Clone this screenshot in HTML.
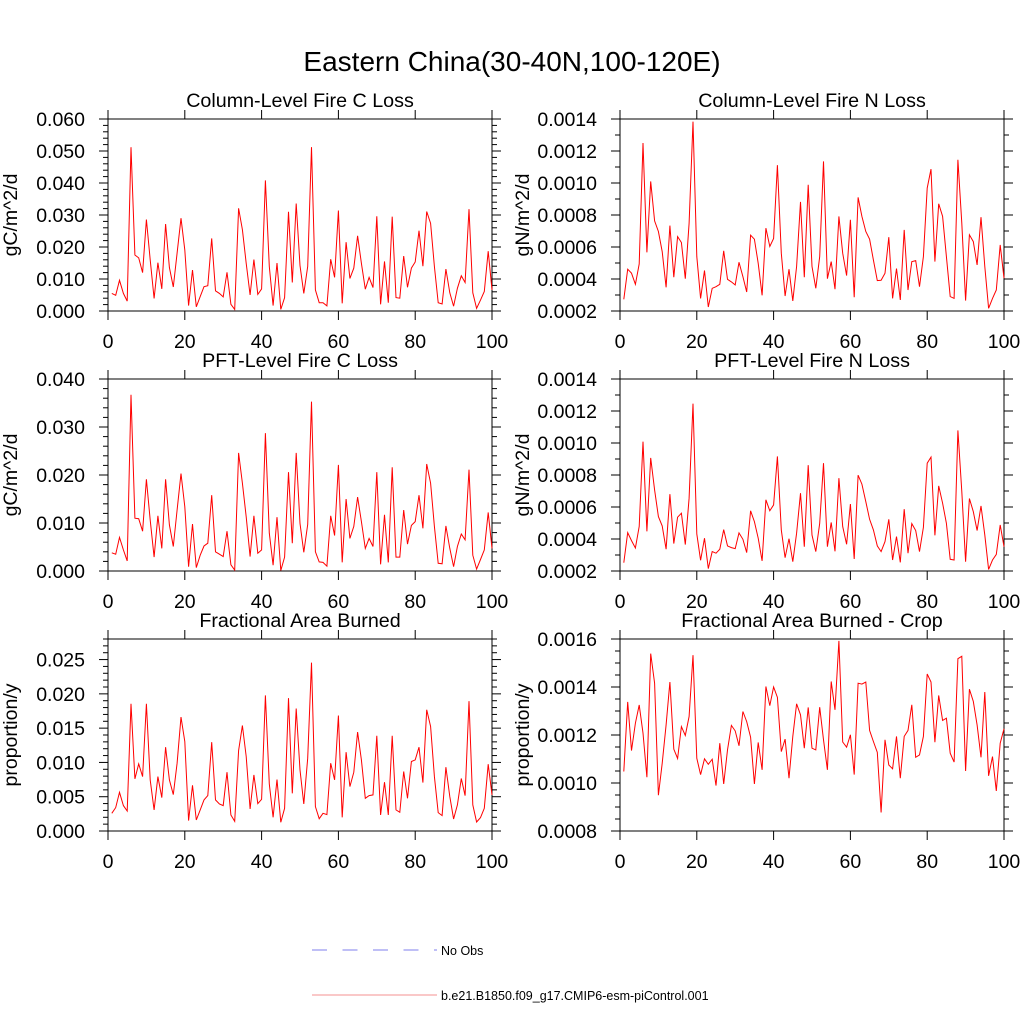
<!DOCTYPE html>
<html><head><meta charset="utf-8"><style>
html,body{margin:0;padding:0;background:#fff;}
svg{display:block;font-family:"Liberation Sans",Arial,sans-serif;}
</style></head><body>
<svg id="chart" width="1024" height="1024" viewBox="0 0 1024 1024" xmlns="http://www.w3.org/2000/svg">
<rect x="0" y="0" width="1024" height="1024" fill="#fff"/>
<text x="512" y="71" font-size="28" text-anchor="middle" fill="#000">Eastern China(30-40N,100-120E)</text>
<g id="panels"></g>
<g>
<line x1="312" y1="950" x2="437" y2="950" stroke="#7f7fee" stroke-width="1" stroke-dasharray="15,15.5"/>
<text x="441" y="955" font-size="12.5" fill="#000">No Obs</text>
<line x1="312" y1="995" x2="437" y2="995" stroke="#f59090" stroke-width="1"/>
<text x="441" y="1000" font-size="12.5" fill="#000">b.e21.B1850.f09_g17.CMIP6-esm-piControl.001</text>
</g>
</svg>
<script>
const years = Array.from({length:100},(_, i)=>i+1);
const xTicks = [0,20,40,60,80,100];
const colC = [.0055,.0049,.0096,.0055,.0031,.0512,.0175,.0166,.0120,.0286,.0160,.0039,.0151,.0069,.0272,.0136,.0075,.0181,.0290,.0191,.0017,.0128,.0013,.0045,.0076,.0079,.0227,.0063,.0055,.0044,.0121,.0021,.0005,.0321,.0254,.0149,.0050,.0161,.0052,.0069,.0408,.0139,.0017,.0150,.0005,.0042,.0310,.0089,.0336,.0142,.0055,.0139,.0512,.0066,.0026,.0026,.0016,.0162,.0105,.0314,.0024,.0215,.0102,.0134,.0235,.0149,.0068,.0105,.0073,.0296,.0021,.0155,.0026,.0295,.0042,.0040,.0172,.0074,.0134,.0153,.0251,.0140,.0311,.0274,.0139,.0026,.0022,.0131,.0057,.0015,.0071,.0110,.0089,.0318,.0057,.0008,.0034,.0061,.0187,.0066];
const colN = [2.73,4.61,4.36,3.67,4.94,12.50,5.67,10.10,7.63,6.97,5.71,3.48,7.34,4.11,6.65,6.28,4.02,7.49,13.83,5.40,2.79,4.53,2.25,3.42,3.52,3.67,5.76,3.98,3.82,3.63,5.05,4.15,3.19,6.74,6.49,4.98,2.98,7.18,6.03,6.53,11.12,5.61,2.94,4.61,2.63,4.78,8.82,4.11,9.89,4.78,3.42,5.40,11.35,4.02,5.09,3.36,7.91,5.61,4.21,7.70,2.86,9.10,7.91,6.97,6.49,5.19,3.90,3.92,4.36,6.61,2.79,4.65,2.69,7.07,3.31,5.09,5.15,3.52,5.40,9.68,10.87,5.09,8.70,7.91,5.40,2.90,2.79,11.45,7.49,2.65,6.76,6.34,4.88,7.86,4.78,2.17,2.79,3.31,6.13,4.05].map(v=>v*1e-4);
const pftC = [.0038,.0035,.0070,.0044,.0021,.0367,.0110,.0109,.0083,.0191,.0106,.0029,.0115,.0047,.0191,.0096,.0051,.0127,.0203,.0134,.0009,.0098,.0007,.0033,.0052,.0058,.0158,.0040,.0035,.0030,.0083,.0013,.0002,.0246,.0183,.0113,.0030,.0115,.0037,.0044,.0287,.0079,.0012,.0112,.0001,.0029,.0206,.0058,.0246,.0099,.0039,.0097,.0353,.0040,.0019,.0018,.0010,.0115,.0074,.0221,.0018,.0150,.0068,.0093,.0154,.0103,.0047,.0068,.0051,.0206,.0014,.0117,.0018,.0216,.0029,.0029,.0127,.0056,.0095,.0103,.0158,.0089,.0223,.0183,.0093,.0016,.0015,.0094,.0047,.0009,.0051,.0077,.0065,.0211,.0033,.0004,.0024,.0044,.0122,.0047];
const pftN = [2.52,4.40,3.90,3.44,4.78,10.08,4.48,9.07,7.07,5.40,4.82,3.36,6.80,3.71,5.36,5.61,3.65,6.55,12.46,4.32,2.67,4.05,2.15,3.21,3.11,3.36,4.59,3.57,3.46,3.40,4.38,3.98,3.15,5.76,5.09,4.05,2.63,6.45,5.76,6.13,9.16,4.57,2.83,4.02,2.58,4.36,6.86,3.52,8.62,4.25,3.21,4.98,8.74,3.52,5.03,3.23,7.80,4.78,3.67,6.19,2.75,7.99,7.43,6.34,5.23,4.57,3.57,3.21,3.84,5.23,2.69,4.15,2.54,5.86,3.11,4.96,4.53,3.21,4.73,8.74,9.12,4.23,7.32,6.24,4.98,2.73,2.69,10.79,6.97,2.58,6.53,5.71,4.53,6.07,4.25,2.10,2.69,3.04,4.88,3.52].map(v=>v*1e-4);
const fab = [2.58,3.41,5.65,3.70,2.92,18.55,7.60,9.79,7.94,18.55,7.45,3.07,7.94,4.87,12.22,7.45,5.31,9.89,16.61,13.05,1.51,6.67,1.61,3.07,4.53,5.16,12.95,4.53,3.94,3.70,8.57,2.34,1.41,11.74,15.39,10.86,3.21,8.18,3.99,4.63,19.77,6.87,2.00,7.50,1.27,3.31,19.38,5.50,17.87,8.91,3.94,10.62,24.54,3.56,1.80,2.58,2.39,9.89,7.45,16.85,2.00,11.49,6.48,8.57,14.42,10.37,4.77,5.16,5.26,13.88,2.34,7.11,2.34,13.88,3.07,2.73,8.67,4.77,10.13,10.37,12.22,7.06,17.68,15.24,7.94,2.68,2.24,9.30,5.02,1.75,3.80,7.65,5.16,18.94,3.80,1.31,1.95,3.31,9.74,5.26].map(v=>v*1e-3);
const fabCrop = [10.48,13.38,11.35,12.49,13.25,12.08,10.24,15.39,14.16,9.49,10.82,12.42,14.21,11.41,11.02,12.35,11.98,12.77,15.33,11.03,10.35,11.01,10.78,10.99,9.89,11.66,9.96,11.38,12.40,12.17,11.55,12.98,12.56,11.91,9.96,11.69,10.55,14.02,13.22,14.00,13.57,11.31,11.83,10.20,11.94,13.30,12.84,11.45,13.15,11.45,11.38,13.16,11.80,10.55,14.23,13.05,15.92,11.71,11.49,12.01,10.35,14.16,14.12,14.21,12.19,11.73,11.28,8.77,11.80,10.75,10.59,11.94,10.20,11.94,12.19,13.26,11.07,11.17,11.94,14.54,14.21,11.70,13.65,12.61,12.70,11.24,10.87,15.18,15.28,10.50,13.91,13.40,12.42,11.07,13.79,10.30,11.10,9.67,11.66,12.26].map(v=>v*1e-4);
const titles = ["Column-Level Fire C Loss","Column-Level Fire N Loss","PFT-Level Fire C Loss","PFT-Level Fire N Loss","Fractional Area Burned","Fractional Area Burned - Crop"];
const units = ["gC/m^2/d","gN/m^2/d","gC/m^2/d","gN/m^2/d","proportion/y","proportion/y"];
const yMins = [0,0.0002,0,0.0002,0,0.0008];
const yMaxs = [0.06,0.0014,0.04,0.0014,0.028,0.0016];
const yMajors = [0.01,0.0002,0.01,0.0002,0.005,0.0002];
const yMinors = [0.002,0.0001,0.002,0.0001,0.001,0.00005];
const yDecimals = [3,4,3,4,3,4];
const series = [colC,colN,pftC,pftN,fab,fabCrop];

const NS="http://www.w3.org/2000/svg";
const root=document.getElementById('panels');
function mk(tag,attrs,parent){const e=document.createElementNS(NS,tag);for(const k in attrs)e.setAttribute(k,attrs[k]);parent.appendChild(e);return e;}
const lefts=[108,620], tops=[119,379,639], W=384, H=192;
for(let p=0;p<6;p++){
  const L=lefts[p%2], T=tops[Math.floor(p/2)], R=L+W, B=T+H;
  const g=mk('g',{},root);
  
  
  const xs=v=>L+(v-0)/(100-0)*W;
  const ys=v=>B-(v-yMins[p])/(yMaxs[p]-yMins[p])*H;
  const tg=mk('g',{stroke:'#000','stroke-width':1},g);
  
  
  const nMin=Math.round((yMaxs[p]-yMins[p])/yMinors[p]);
  const ratio=Math.round(yMajors[p]/yMinors[p]);
  for(let k=0;k<=nMin;k++){
    const y=ys(yMins[p]+k*yMinors[p]); const len=(k%ratio===0)?9:5;
    mk('line',{x1:L-len,y1:y,x2:L,y2:y},tg);
    mk('line',{x1:R,y1:y,x2:R+len,y2:y},tg);
    if(k%ratio===0){
      const t=mk('text',{x:L-23,y:y+7,'font-size':19.5,'text-anchor':'end',stroke:'none',fill:'#000'},g);
      t.textContent=(yMins[p]+k*yMinors[p]).toFixed(yDecimals[p]);
      
      
    }
  }
  xTicks.forEach(v=>{
    const x=xs(v);
    mk('line',{x1:x,y1:B,x2:x,y2:B+9},tg);
    mk('line',{x1:x,y1:T-9,x2:x,y2:T},tg);
    const t=mk('text',{x:x,y:B+37,'font-size':19.5,'text-anchor':'middle',fill:'#000'},g);
    t.textContent=String(v);
    
    
  });
  const fr=mk('rect',{x:L,y:T,width:W,height:H,fill:'none',stroke:'#000','stroke-width':1},g);
  
  
  const pts=years.map((yr,i)=>xs(yr).toFixed(1)+','+ys(series[p][i]).toFixed(1)).join(' ');
  const pl=mk('polyline',{points:pts,fill:'none',stroke:'#ff0000','stroke-width':1},g);
  
  
  const tt=mk('text',{x:L+W/2,y:T-12,'font-size':19.7,'text-anchor':'middle',fill:'#000'},g);
  tt.textContent=titles[p];
  
  
  const cx=L-91, cy=T+H/2;
  const yl=mk('text',{x:cx,y:cy,'font-size':19.5,'text-anchor':'middle',fill:'#000',transform:'rotate(-90 '+cx+' '+cy+')'},g);
  yl.textContent=units[p];
  
  
}
</script>
</body></html>
